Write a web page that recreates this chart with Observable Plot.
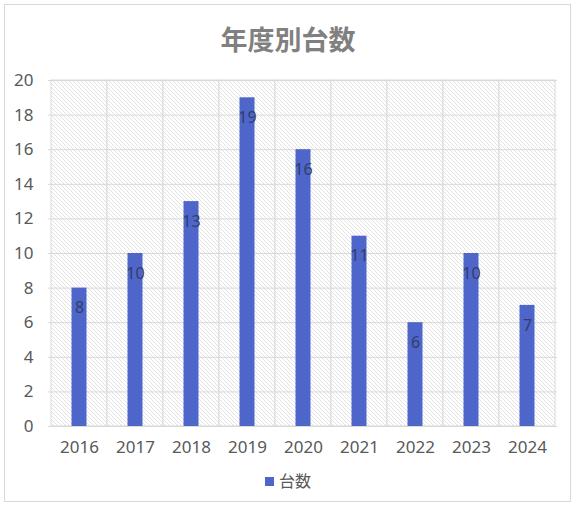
<!DOCTYPE html>
<html>
<head>
<meta charset="utf-8">
<script src="https://cdn.jsdelivr.net/npm/d3@7"></script>
<script src="https://cdn.jsdelivr.net/npm/@observablehq/plot@0.6"></script>
<style>
  html, body { margin: 0; padding: 0; background: #fff; }
  #wrap { position: relative; width: 576px; height: 508px; font-family: "Noto Sans", "Noto Sans CJK JP", sans-serif; }
  #border { position: absolute; left: 4px; top: 4px; width: 567px; height: 498px; border: 1px solid #d9d9d9; box-sizing: border-box; }
  #title { position: absolute; left: 0; width: 576px; top: 21px; text-align: center; font-family: "Noto Sans CJK JP", sans-serif; font-weight: bold; font-size: 27px; color: #808080; line-height: 36px; }
  #chart { position: absolute; left: 0; top: 0; }
  #legend { position: absolute; left: 0; width: 576px; top: 469px; text-align: center; font-family: "Noto Sans CJK JP", sans-serif; font-size: 16px; color: #595959; line-height: 22px; }
  #legend .sw { display: inline-block; width: 9px; height: 9px; background: #4e65c9; margin-right: 5px; vertical-align: 1px; }
</style>
</head>
<body>
<div id="wrap">
  <div id="border"></div>
  <div id="title"></div>
  <div id="chart"></div>
  <div id="legend"></div>
</div>
<script>
const titleText = "年度別台数";
const seriesName = "台数";
const years = ["2016", "2017", "2018", "2019", "2020", "2021", "2022", "2023", "2024"];
const counts = [8, 10, 13, 19, 16, 11, 6, 10, 7];
const yTicks = [0, 2, 4, 6, 8, 10, 12, 14, 16, 18, 20];

const data = years.map((y, i) => ({year: y, count: counts[i]}));
const barColor = "#4e65c9";
const gridColor = "#d9d9d9";

document.getElementById("title").textContent = titleText;
document.getElementById("legend").innerHTML = '<span class="sw"></span>' + seriesName;

const plot = Plot.plot({
  width: 576,
  height: 508,
  marginLeft: 48,
  marginRight: 19,
  marginTop: 80,
  marginBottom: 82,
  style: {fontFamily: '"Noto Sans", sans-serif', fontSize: "17px", color: "#595959", background: "transparent"},
  x: {type: "band", domain: years, padding: 0, label: null},
  y: {domain: [0, 20], label: null},
  marks: [
    Plot.barY(years, {x: d => d, y1: 0, y2: 20, fill: "url(#hatch)", stroke: gridColor, strokeWidth: 1}),
    Plot.ruleY(yTicks, {stroke: gridColor, strokeWidth: 1}),
    Plot.barY(data, {x: "year", y: "count", fill: barColor, insetLeft: 20.5, insetRight: 20.5}),
    Plot.text(data, {x: "year", y: "count", text: d => String(d.count), dy: 20, fill: "#333d6b", fontSize: 16, lineAnchor: "middle"}),
    Plot.axisY({ticks: yTicks, tickSize: 0, tickPadding: 15, fontSize: 17, fill: "#595959", label: null}),
    Plot.axisX({tickSize: 0, tickPadding: 14, fontSize: 17, fill: "#595959", label: null})
  ]
});

d3.select(plot).insert("defs", ":first-child").html(
  '<pattern id="hatch" patternUnits="userSpaceOnUse" width="4" height="4">' +
  '<rect width="4" height="4" fill="#ffffff"/>' +
  '<path d="M-1,3 L1,5 M-1,-1 L5,5 M3,-1 L5,1" stroke="#d6d6d6" stroke-width="0.7"/>' +
  '</pattern>'
);

document.getElementById("chart").appendChild(plot);
</script>
</body>
</html>
